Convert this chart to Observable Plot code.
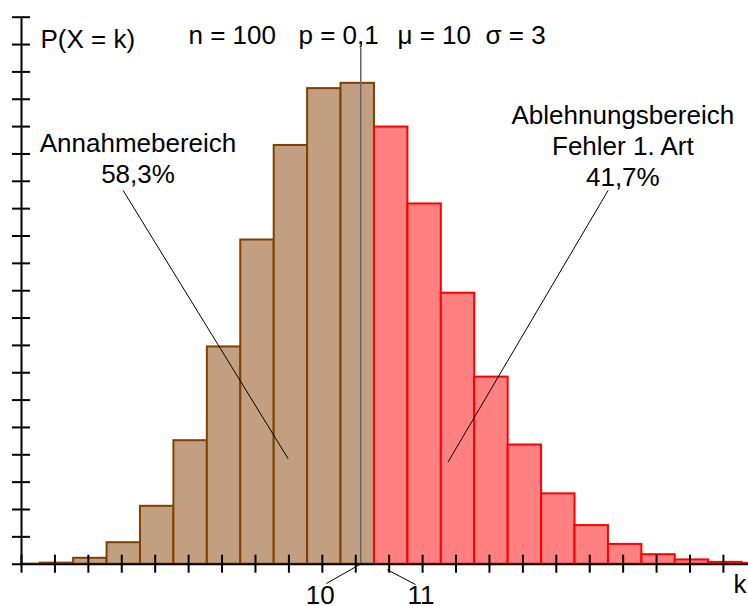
<!DOCTYPE html>
<html><head><meta charset="utf-8">
<script src="https://cdn.jsdelivr.net/npm/d3@7"></script>
<script src="https://cdn.jsdelivr.net/npm/@observablehq/plot@0.6"></script>
<style>html,body{margin:0;padding:0;background:#fff;} svg{display:block;}</style>
</head><body><div id="chart"></div>
<script>
// Binomial distribution n = 100, p = 0.1
const ks    = [0, 1, 2, 3, 4, 5, 6, 7, 8, 9, 10, 11, 12, 13, 14, 15, 16, 17, 18, 19, 20, 21, 22];
const probs = [0.0000266, 0.000295, 0.001623, 0.005892, 0.015875, 0.033866, 0.059579, 0.088895,
               0.114823, 0.130416, 0.131865, 0.119878, 0.098788, 0.074302, 0.051304, 0.032682,
               0.019291, 0.010591, 0.005426, 0.002602, 0.001171, 0.000496, 0.000198];
const acceptMax = 10;           // Annahmebereich: k <= 10
const params = {n: 100, p: "0,1", mu: 10, sigma: 3};
const headerTexts = ["P(X = k)", `n = ${params.n}`, `p = ${params.p}`, `μ = ${params.mu}`, `σ = ${params.sigma}`];
const acceptLabel = "Annahmebereich";
const rejectLabel = ["Ablehnungsbereich", "Fehler 1. Art"];
const xTickValues = [0, 1, 2, 3, 4, 5, 6, 7, 8, 9, 10, 11, 12, 13, 14, 15, 16, 17, 18, 19, 20, 21];
const yTickValues = [0.0075, 0.015, 0.0225, 0.03, 0.0375, 0.045, 0.0525, 0.06, 0.0675, 0.075,
                     0.0825, 0.09, 0.0975, 0.105, 0.1125, 0.12, 0.1275, 0.135, 0.1425, 0.15];
const xLabels = ["10", "11"];

const bars = ks.map((k, i) => ({k, p: probs[i]}));
const accepted = bars.filter(d => d.k <= acceptMax);
const rejected = bars.filter(d => d.k > acceptMax);
const acceptShare = d3.sum(accepted, d => d.p);
const rejectShare = 1 - acceptShare;
const pct = v => (v * 100).toFixed(1).replace(".", ",") + "%";

const brownFill = "#c29f80", brownStroke = "#7f4000";
const redFill = "#ff8080", redStroke = "#ff0000";
const font = "'Liberation Sans', Arial, Helvetica, sans-serif";
const xTickHalf = 0.27;    // half tick length in x units (~9 px)
const yTickHalf = 0.00247; // half tick length in y units (~9 px)

const chart = Plot.plot({
  width: 748, height: 606,
  marginLeft: 21, marginRight: 0, marginTop: 16.7, marginBottom: 42.3,
  style: {fontFamily: font, fontSize: "26px", background: "#fff", overflow: "visible", color: "#000"},
  x: {type: "linear", domain: [0, 21.75], axis: null},
  y: {domain: [0, 0.15], axis: null},
  marks: [
    Plot.rect(accepted, {x1: d => d.k - 0.44, x2: d => d.k + 0.56, y1: 0, y2: "p",
      fill: brownFill, stroke: brownStroke, strokeWidth: 2, clip: true}),
    Plot.rect(rejected, {x1: d => d.k - 0.44, x2: d => d.k + 0.56, y1: 0, y2: "p",
      fill: redFill, stroke: redStroke, strokeWidth: 2, clip: true}),
    // mean marker line
    Plot.ruleX([params.mu], {x: d => d, dx: 5, insetTop: 31, stroke: "#666", strokeWidth: 1.5}),
    // axis lines
    Plot.ruleY([0], {y: d => d, x1: -0.27, x2: 21.75, stroke: "#000", strokeWidth: 2}),
    Plot.ruleX([0], {x: d => d, y1: 0, y2: 0.15, stroke: "#000", strokeWidth: 2}),
    // crossing ticks
    Plot.ruleX(xTickValues, {x: d => d, y1: -yTickHalf, y2: yTickHalf, stroke: "#000", strokeWidth: 2}),
    Plot.ruleY(yTickValues, {y: d => d, x1: -xTickHalf, x2: xTickHalf, stroke: "#000", strokeWidth: 2}),
    // header
    Plot.text([headerTexts[0]], {text: d => d, frameAnchor: "top-left", dx: 19, dy: 30.3, textAnchor: "start", lineAnchor: "bottom", fontSize: 26, fill: "#000"}),
    Plot.text([headerTexts[1]], {text: d => d, frameAnchor: "top-left", dx: 167, dy: 26.8, textAnchor: "start", lineAnchor: "bottom", fontSize: 26, fill: "#000"}),
    Plot.text([headerTexts[2]], {text: d => d, frameAnchor: "top-left", dx: 277, dy: 26.8, textAnchor: "start", lineAnchor: "bottom", fontSize: 26, fill: "#000"}),
    Plot.text([headerTexts[3]], {text: d => d, frameAnchor: "top-left", dx: 376, dy: 26.8, textAnchor: "start", lineAnchor: "bottom", fontSize: 26, fill: "#000"}),
    Plot.text([headerTexts[4]], {text: d => d, frameAnchor: "top-left", dx: 464, dy: 26.8, textAnchor: "start", lineAnchor: "bottom", fontSize: 26, fill: "#000"}),
    // region annotations
    Plot.text([acceptLabel + "\n" + pct(acceptShare)], {text: d => d, x: 3.485, y: 0.1045,
      textAnchor: "middle", lineAnchor: "bottom", lineHeight: 1.19, fontSize: 26, fill: "#000"}),
    Plot.text([rejectLabel.join("\n") + "\n" + pct(rejectShare)], {text: d => d, x: 17.99, y: 0.1037,
      textAnchor: "middle", lineAnchor: "bottom", lineHeight: 1.195, fontSize: 26, fill: "#000"}),
    Plot.link([0], {x1: 3.04, y1: 0.1025, x2: 7.98, y2: 0.0289, stroke: "#000", strokeWidth: 1}),
    Plot.link([0], {x1: 17.55, y1: 0.1025, x2: 12.76, y2: 0.028, stroke: "#000", strokeWidth: 1}),
    // x labels with leaders
    Plot.link([0], {x1: 9.12, y1: -0.0053, x2: 10.14, y2: 0, stroke: "#000", strokeWidth: 1}),
    Plot.link([0], {x1: 10.94, y1: -0.0015, x2: 11.79, y2: -0.0056, stroke: "#000", strokeWidth: 1}),
    Plot.text([xLabels[0]], {text: d => d, x: 8.94, y: -0.0110, textAnchor: "middle", lineAnchor: "bottom", fontSize: 26, fill: "#000"}),
    Plot.text([xLabels[1]], {text: d => d, x: 11.95, y: -0.0110, textAnchor: "middle", lineAnchor: "bottom", fontSize: 26, fill: "#000"}),
    Plot.text(["k"], {text: d => d, x: 21.75, y: 0, dx: -2, dy: 29, textAnchor: "end", lineAnchor: "bottom", fontSize: 26, fill: "#000"})
  ]
});
document.getElementById("chart").appendChild(chart);
</script>
</body></html>
